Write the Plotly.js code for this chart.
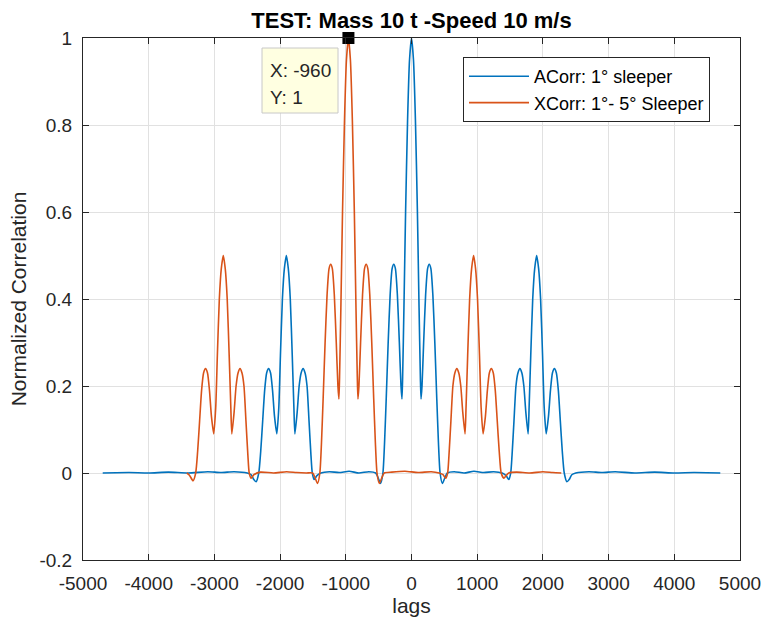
<!DOCTYPE html>
<html>
<head>
<meta charset="utf-8">
<script src="https://cdn.plot.ly/plotly-3.0.1.min.js"></script>
<style>html,body{margin:0;padding:0;background:#fff;}#chart{width:763px;height:626px;}</style>
</head>
<body>
<div id="chart"></div>
<script>
// ACorr: 1° sleeper (autocorrelation)
var blueLags = [-4700,-4300,-4000,-3700,-3400,-3100,-2900,-2700,-2500,-2440,-2400,-2365,-2325,-2295,-2265,-2235,-2205,-2175,-2145,-2115,-2085,-2050,-2020,-1995,-1965,-1935,-1905,-1875,-1845,-1815,-1790,-1775,-1740,-1710,-1680,-1650,-1620,-1590,-1560,-1530,-1510,-1480,-1440,-1380,-1250,-1100,-950,-800,-650,-545,-505,-470,-435,-410,-385,-355,-325,-295,-270,-245,-215,-185,-160,-145,-135,-115,-90,-60,-30,0,30,60,90,115,135,145,160,185,215,245,270,295,325,355,385,410,435,470,505,545,650,800,950,1100,1250,1380,1440,1480,1510,1530,1560,1590,1620,1650,1680,1710,1740,1775,1790,1815,1845,1875,1905,1935,1965,1995,2020,2050,2085,2115,2145,2175,2205,2235,2265,2295,2325,2365,2400,2440,2500,2700,2900,3100,3400,3700,4000,4300,4700];
var blueVals = [0,0.001,0,0.002,0,0.003,0.001,0.003,0,-0.004,-0.015,-0.02,0,0.05,0.12,0.19,0.23,0.24,0.23,0.19,0.13,0.09,0.15,0.27,0.40,0.47,0.50,0.47,0.40,0.27,0.15,0.09,0.14,0.20,0.23,0.24,0.23,0.20,0.12,0.04,0,-0.015,-0.006,0,0.003,0.001,0.004,0,0.003,0,-0.012,-0.024,0,0.07,0.17,0.30,0.41,0.47,0.48,0.47,0.41,0.30,0.20,0.17,0.22,0.38,0.60,0.81,0.95,1.0,0.95,0.81,0.60,0.38,0.22,0.17,0.20,0.30,0.41,0.47,0.48,0.47,0.41,0.30,0.17,0.07,0,-0.024,-0.012,0,0.003,0,0.004,0.001,0.003,0,-0.006,-0.015,0,0.04,0.12,0.20,0.23,0.24,0.23,0.20,0.14,0.09,0.15,0.27,0.40,0.47,0.50,0.47,0.40,0.27,0.15,0.09,0.13,0.19,0.23,0.24,0.23,0.19,0.12,0.05,0,-0.02,-0.015,-0.004,0,0.003,0.001,0.003,0,0.002,0,0.001,0];

// XCorr: 1°- 5° Sleeper (cross-correlation)
var orangeLags = [-3420,-3380,-3325,-3285,-3255,-3225,-3195,-3165,-3135,-3105,-3075,-3045,-3010,-2980,-2955,-2925,-2895,-2865,-2835,-2805,-2775,-2750,-2735,-2700,-2670,-2640,-2610,-2580,-2550,-2520,-2490,-2470,-2440,-2400,-2300,-2100,-1900,-1750,-1600,-1505,-1465,-1430,-1395,-1370,-1345,-1315,-1285,-1255,-1230,-1205,-1175,-1145,-1120,-1105,-1095,-1075,-1050,-1020,-990,-960,-930,-900,-870,-845,-825,-815,-800,-775,-745,-715,-690,-665,-635,-605,-575,-550,-525,-490,-455,-415,-300,-100,100,300,420,480,520,550,570,600,630,660,690,720,750,780,815,830,855,885,915,945,975,1005,1035,1060,1090,1125,1155,1185,1215,1245,1275,1305,1335,1365,1405,1440,1480,1600,1800,2000,2150,2280];
var orangeVals = [0,-0.005,-0.018,0,0.05,0.12,0.19,0.23,0.24,0.23,0.19,0.13,0.09,0.15,0.27,0.40,0.47,0.50,0.47,0.40,0.27,0.15,0.09,0.14,0.20,0.23,0.24,0.23,0.20,0.12,0.04,0,-0.012,-0.004,0.002,0,0.003,0.001,0,0,-0.012,-0.024,0,0.07,0.17,0.30,0.41,0.47,0.48,0.47,0.41,0.30,0.20,0.17,0.22,0.38,0.60,0.81,0.95,1.0,0.95,0.81,0.60,0.38,0.22,0.17,0.20,0.30,0.41,0.47,0.48,0.47,0.41,0.30,0.17,0.07,0,-0.024,-0.012,0,0.002,0.004,0.001,0.003,0,-0.004,-0.012,0,0.04,0.12,0.20,0.23,0.24,0.23,0.20,0.14,0.09,0.15,0.27,0.40,0.47,0.50,0.47,0.40,0.27,0.15,0.09,0.13,0.19,0.23,0.24,0.23,0.19,0.12,0.05,0,-0.012,-0.006,0,0.002,0,0.003,0.001,0];

// data tip
var tipLag = [-960];
var tipVal = [1];

var xTickVals = [-5000,-4000,-3000,-2000,-1000,0,1000,2000,3000,4000,5000];
var xTickText = ['-5000','-4000','-3000','-2000','-1000','0','1000','2000','3000','4000','5000'];
var yTickVals = [-0.2,0,0.2,0.4,0.6,0.8,1];
var yTickText = ['-0.2','0','0.2','0.4','0.6','0.8','1'];

var seriesNames = ['ACorr: 1° sleeper','XCorr: 1°- 5° Sleeper'];

var FONT = 'Liberation Sans, Arial, Helvetica, sans-serif';
var INK = '#262626';

var traces = [
  {x: blueLags, y: blueVals, type: 'scatter', mode: 'lines', name: seriesNames[0],
   line: {color: '#0072BD', width: 1.6, shape: 'spline', smoothing: 0.6}},
  {x: orangeLags, y: orangeVals, type: 'scatter', mode: 'lines', name: seriesNames[1],
   line: {color: '#D95319', width: 1.6, shape: 'spline', smoothing: 0.6}},
  {x: tipLag, y: tipVal, type: 'scatter', mode: 'markers', showlegend: false, cliponaxis: false,
   marker: {symbol: 'square', size: 12, color: '#000000'}, hoverinfo: 'skip'}
];

var L = 83, R = 740, T = 38, B = 560;
function px(x){ return (x - L) / (R - L); }
function py(y){ return 1 - (y - T) / (B - T); }

var axisCommon = {
  showline: true, linecolor: INK, linewidth: 1, mirror: 'ticks',
  ticks: 'inside', ticklen: 6, tickcolor: INK, tickwidth: 1,
  showgrid: true, gridcolor: '#e1e1e1', gridwidth: 1, zeroline: false,
  tickfont: {family: FONT, size: 19, color: INK}, automargin: false
};

var layout = {
  width: 763, height: 626,
  paper_bgcolor: '#ffffff', plot_bgcolor: '#ffffff',
  margin: {l: L, r: 763 - R, t: T, b: 626 - B, pad: 0},
  font: {family: FONT, color: INK},
  title: {text: 'TEST: Mass 10 t -Speed 10 m/s', x: 0.5, xref: 'paper', xanchor: 'center',
          y: 1 - 20/626, yref: 'container', yanchor: 'middle',
          font: {family: FONT, size: 22, weight: 'bold', color: '#000000'}},
  xaxis: Object.assign({}, axisCommon, {
    range: [-5000, 5000], tickvals: xTickVals, ticktext: xTickText,
    ticklabelstandoff: 6,
    title: {text: 'lags', font: {family: FONT, size: 21, color: INK}, standoff: 5}
  }),
  yaxis: Object.assign({}, axisCommon, {
    range: [-0.2, 1], tickvals: yTickVals, ticktext: yTickText,
    ticklabelstandoff: 6,
    title: {text: 'Normalized Correlation', font: {family: FONT, size: 21, color: INK}, standoff: 7}
  }),
  showlegend: true,
  legend: {x: px(463), y: py(57), xanchor: 'left', yanchor: 'top',
           bgcolor: '#ffffff', bordercolor: INK, borderwidth: 1, itemwidth: 60,
           font: {family: FONT, size: 18, color: '#000000'}},
  shapes: [
    {type: 'rect', xref: 'paper', yref: 'paper', x0: px(262), x1: px(338), y0: py(113), y1: py(48),
     fillcolor: '#ffffe1', line: {color: '#c8c8c8', width: 1}, layer: 'above'}
  ],
  annotations: [
    {xref: 'paper', yref: 'paper', x: px(268), y: py(71), xanchor: 'left', yanchor: 'middle',
     text: 'X: -960', showarrow: false, font: {family: FONT, size: 19, color: INK}},
    {xref: 'paper', yref: 'paper', x: px(268), y: py(98), xanchor: 'left', yanchor: 'middle',
     text: 'Y: 1', showarrow: false, font: {family: FONT, size: 19, color: INK}}
  ]
};

Plotly.newPlot('chart', traces, layout, {displayModeBar: false, staticPlot: true});
</script>
</body>
</html>
